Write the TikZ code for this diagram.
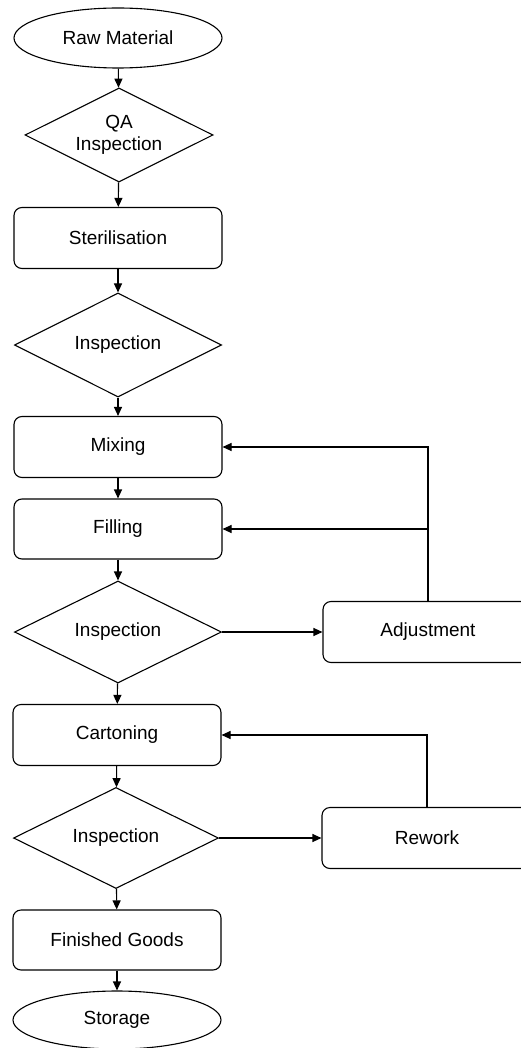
\documentclass[tikz,border=0pt]{standalone}
\usepackage{fontspec}
\setmainfont{Liberation Sans}
\usetikzlibrary{shapes.geometric,arrows.meta}
\begin{document}
\begin{tikzpicture}[x=1pt,y=-1pt,
  base/.style={draw=black,line width=1.1pt,font=\fontsize{19}{22}\selectfont,inner sep=0pt,align=center},
  term/.style={base,ellipse,minimum width=208pt,minimum height=60pt},
  proc/.style={base,rectangle,rounded corners=8pt,minimum width=208pt,minimum height=61pt},
  side/.style={base,rectangle,rounded corners=8pt,minimum width=210pt,minimum height=61pt},
  dec/.style={base,diamond,aspect=2},
  arr/.style={draw=black,line width=1.1pt,-{Triangle[length=9pt,width=8pt]}}]
\useasboundingbox (0,0) rectangle (520,1048);
\node[term] (raw) at (118,38) {Raw Material};
\node[dec,minimum width=188pt,minimum height=94pt] (qa) at (119,135) {QA\\Inspection};
\node[proc] (ster) at (118,238) {Sterilisation};
\node[dec,minimum width=207pt,minimum height=104pt] (i1) at (118,345) {Inspection};
\node[proc] (mix) at (118,447) {Mixing};
\node[proc,minimum height=60pt] (fill) at (118,529) {Filling};
\node[dec,minimum width=207pt,minimum height=102pt] (i2) at (118,632) {Inspection};
\node[side] (adj) at (428,632) {Adjustment};
\node[proc] (cart) at (117,735) {Cartoning};
\node[dec,minimum width=205pt,minimum height=101pt] (i3) at (116,838) {Inspection};
\node[side] (rew) at (427,838) {Rework};
\node[proc,minimum height=60pt] (fg) at (117,940) {Finished Goods};
\node[term,minimum height=58pt] (stor) at (117,1020) {Storage};
\draw[arr] (raw) -- (qa);
\draw[arr] (qa) -- (ster);
\draw[arr] (ster) -- (i1);
\draw[arr] (i1) -- (mix);
\draw[arr] (mix) -- (fill);
\draw[arr] (fill) -- (i2);
\draw[arr] (i2) -- (cart);
\draw[arr] (cart) -- (i3);
\draw[arr] (i3) -- (fg);
\draw[arr] (fg) -- (stor);
\draw[arr] (i2.east) -- (adj.west);
\draw[arr] (adj.north) |- (mix.east);
\draw[arr] (adj.north |- fill.east) -- (fill.east);
\draw[arr] (i3.east) -- (rew.west);
\draw[arr] (rew.north) |- (cart.east);
\end{tikzpicture}
\end{document}
